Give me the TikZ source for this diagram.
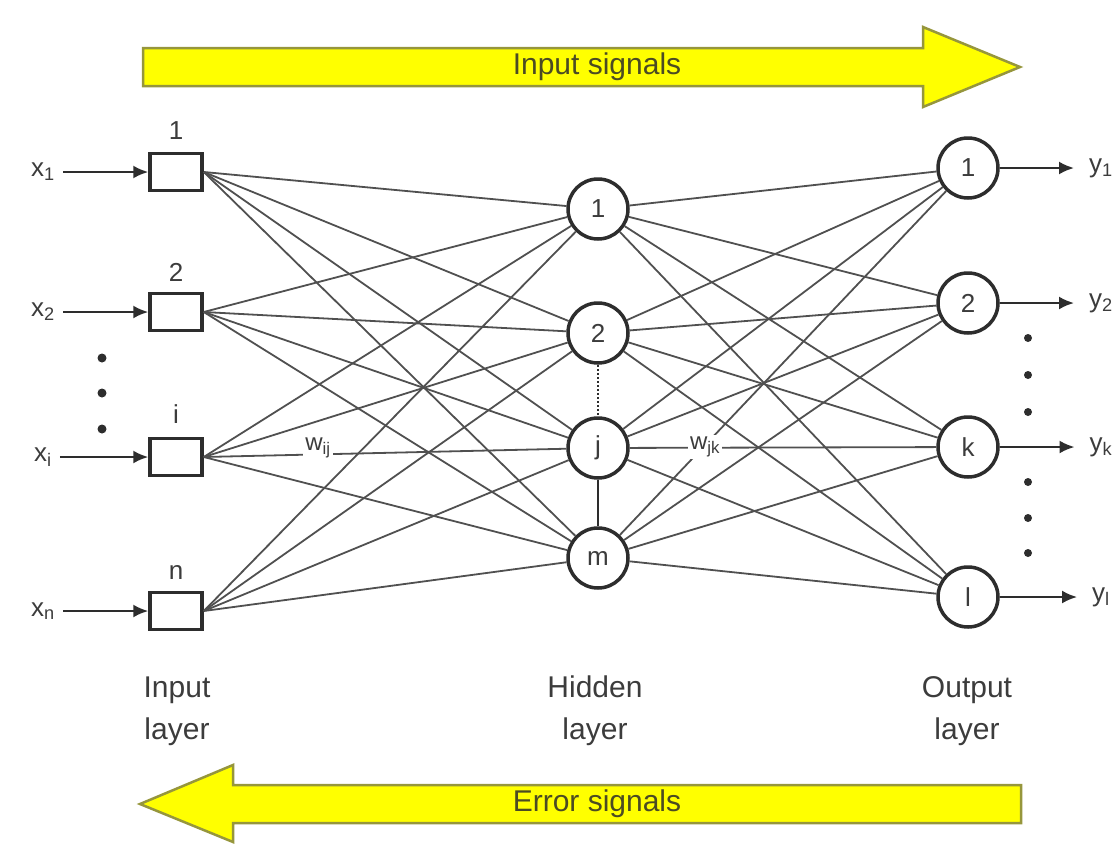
\documentclass[tikz,border=0pt]{standalone}
\usepackage{fontspec}
\setmainfont{Liberation Sans}
\usetikzlibrary{arrows.meta}
\definecolor{boxc}{RGB}{45,45,45}
\definecolor{linkc}{RGB}{80,80,80}
\definecolor{sigfill}{RGB}{255,255,0}
\definecolor{sigedge}{RGB}{150,150,60}
\definecolor{sigtext}{RGB}{75,75,35}
\definecolor{labc}{RGB}{60,60,60}
\begin{document}
\begin{tikzpicture}[x=1pt,y=-1pt,
  inbox/.style={draw=boxc, fill=white, line width=3.5pt, minimum width=52pt, minimum height=37pt, inner sep=0pt},
  neuron/.style={circle, draw=boxc, fill=white, line width=3.5pt, minimum size=60pt, inner sep=0pt,
    font=\fontsize{26}{26}\selectfont, text=labc},
  link/.style={draw=linkc, line width=1.8pt},
  feed/.style={draw=boxc, line width=2.2pt, -{Latex[length=15pt,width=13pt]}},
  iolabel/.style={font=\fontsize{26}{26}\selectfont, text=labc, inner sep=0pt},
  idx/.style={font=\fontsize{26}{26}\selectfont, text=labc, inner sep=0pt},
  weight/.style={font=\fontsize{24}{24}\selectfont, text=labc, fill=white, inner sep=2pt},
  layer/.style={font=\fontsize{30}{42}\selectfont, text=labc, align=center},
  sigarrow/.style={draw=sigedge, fill=sigfill, line width=2.5pt, line join=miter},
  sigtxt/.style={font=\fontsize{30}{30}\selectfont, text=sigtext},
  dotmark/.style={fill=boxc}
]
\useasboundingbox (0,0) rectangle (1119,849);

% forward and backward signal arrows
\draw[sigarrow] (143,48) -- (923,48) -- (923,27) -- (1020,67) -- (923,107) -- (923,86) -- (143,86) -- cycle;
\node[sigtxt] (fwd) at (597,67) {Input signals};
\draw[sigarrow] (1021,785) -- (233,785) -- (233,765) -- (140,804) -- (233,842) -- (233,823) -- (1021,823) -- cycle;
\node[sigtxt] (bwd) at (597,804) {Error signals};

% input layer
\node[inbox] (in1) at (176,172) {};
\node[inbox] (in2) at (176,312) {};
\node[inbox] (ini) at (176,457) {};
\node[inbox] (inn) at (176,611) {};
\node[idx] (n1) at (176,131) {1};
\node[idx] (n2) at (176,272) {2};
\node[idx] (ni) at (176,414) {i};
\node[idx] (nn) at (176,572) {n};

\node[iolabel, inner sep=8pt] (x1) at (43,172) {x\textsubscript{1}};
\node[iolabel, inner sep=8pt] (x2) at (43,312) {x\textsubscript{2}};
\node[iolabel, inner sep=8pt] (xi) at (43,457) {x\textsubscript{i}};
\node[iolabel, inner sep=8pt] (xn) at (43,611) {x\textsubscript{n}};
\foreach \a/\b in {x1/in1, x2/in2, xi/ini, xn/inn}
  \draw[feed] (\a.east) -- (\b.west);

\foreach \y in {358,393,429}
  \fill[dotmark] (102,\y) circle (4.5pt);

% hidden layer
\node[neuron] (h1) at (598,209) {1};
\node[neuron] (h2) at (598,333) {2};
\node[neuron] (hj) at (598,448) {j};
\node[neuron] (hm) at (598,558) {m};
\draw[boxc, line width=2pt, dotted] (h2) -- (hj);
\draw[boxc, line width=2pt] (hj) -- (hm);

% output layer
\node[neuron] (o1) at (968,168) {1};
\node[neuron] (o2) at (968,303) {2};
\node[neuron] (ok) at (968,447) {k};
\node[neuron] (ol) at (968,597) {l};

\node[iolabel] (y1) at (1101,168) {y\textsubscript{1}};
\node[iolabel] (y2) at (1101,303) {y\textsubscript{2}};
\node[iolabel] (yk) at (1101,447) {y\textsubscript{k}};
\node[iolabel] (yl) at (1101,597) {y\textsubscript{l}};
\foreach \a/\b in {o1/y1, o2/y2, ok/yk, ol/yl}
  \draw[feed, shorten >=15pt] (\a.east) -- (\b.west);

\foreach \y in {338,375,412,482,518,553}
  \fill[dotmark] (1028,\y) circle (4pt);

% full connections between layers
\foreach \a in {in1,in2,ini,inn}
  \foreach \b in {h1,h2,hj,hm}
    \draw[link] (\a.east) -- (\b);
\foreach \a in {h1,h2,hj,hm}
  \foreach \b in {o1,o2,ok,ol}
    \draw[link] (\a) -- (\b);

% weight labels
\node[weight] (wij) at (318,448) {w\textsubscript{ij}};
\node[weight] (wjk) at (705,447) {w\textsubscript{jk}};

% layer captions
\node[layer] (capin) at (177,711) {Input\\layer};
\node[layer] (caphid) at (595,711) {Hidden\\layer};
\node[layer] (capout) at (967,711) {Output\\layer};
\end{tikzpicture}
\end{document}
